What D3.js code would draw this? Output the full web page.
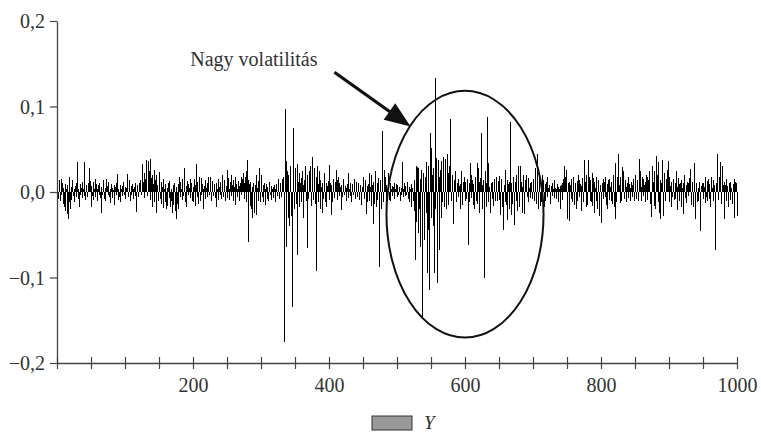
<!DOCTYPE html>
<html lang="hu">
<head>
<meta charset="UTF-8">
<title>Nagy volatilitás</title>
<script src="https://d3js.org/d3.v7.min.js"></script>
<style>
  body { margin: 0; background: #fff; }
  text { font-family: "Liberation Serif", "DejaVu Serif", serif; fill: #333; }
</style>
</head>
<body>
<svg id="chart" width="761" height="434"></svg>
<script>
// returns, in thousandths (0.001), periods 1..1000, 50 per row
const returnsMilli = [
  12,-8,14,6,-10,15,-4,11,-14,5,-18,9,-22,4,-26,8,-32,-12,17,-20,6,-9,14,-5,3,-12,7,-6,10,35,-8,4,-18,9,-3,5,-7,12,3,-5,35,-9,8,4,-6,10,6,28,13,-18,
  7,-5,12,-9,4,15,-6,9,-11,3,8,-4,11,-7,-25,6,-3,10,14,-8,5,-10,15,7,-4,12,-6,3,-13,9,5,-7,2,8,-15,6,-4,10,21,-9,4,-6,8,-12,3,7,-5,12,-3,6,
  -8,5,10,21,-6,14,4,-11,7,-4,9,3,-8,6,11,-5,-23,8,4,-6,10,7,14,-4,18,33,12,-7,22,15,38,26,-5,36,18,24,-9,39,16,-18,20,9,26,-12,14,20,-24,8,-10,12,
  23,-8,12,-14,6,15,-19,4,-12,9,-20,5,-16,11,-7,13,-18,3,-11,-25,8,-15,10,-22,6,-32,-14,9,-20,18,-6,12,4,-9,15,-5,28,10,-12,7,-17,13,-4,9,5,15,-7,11,-10,6,
  -12,15,-16,8,33,-6,12,-14,18,5,-10,16,-4,9,3,-20,7,14,-8,5,11,-6,17,-3,8,18,-11,6,13,-5,4,9,-7,-18,10,3,-9,15,6,-4,12,-8,20,5,-6,11,14,-10,7,26,
  -7,16,4,-9,12,20,-5,8,14,-11,6,18,-15,9,3,-6,13,7,-10,11,18,-4,15,22,-8,10,17,24,-12,37,14,-59,9,-16,12,-20,6,-30,11,-14,-25,8,20,-27,5,-10,13,28,-12,9,
  20,-6,8,-12,11,-15,4,9,-8,6,-11,5,12,-4,7,-9,3,6,-7,8,-12,4,9,-5,6,15,-8,11,4,-6,15,9,18,-22,-175,97,-64,36,25,-30,20,-40,22,30,-28,-134,-78,75,-20,24,
  28,-14,33,-74,12,-18,22,10,-12,16,25,8,-30,14,19,30,-10,-66,20,-8,25,12,30,-16,41,15,-9,28,11,-14,-92,18,30,-12,9,25,-20,14,6,-24,10,-8,22,5,-12,11,-18,7,13,-9,
  32,10,-27,8,-12,5,15,-7,12,4,26,-9,14,18,-5,10,6,-21,8,-6,11,15,-4,7,-10,5,9,22,-7,4,11,-5,-12,6,9,-3,15,4,-8,7,12,-6,5,10,-9,3,8,-15,6,11,
  18,-8,10,14,-26,7,-12,9,22,-10,6,-16,20,8,-37,12,-14,5,25,-18,11,-9,16,-88,9,14,-20,6,71,-12,26,10,18,-14,8,-7,22,5,-9,11,-10,4,7,-5,6,10,-8,4,9,-6,
  8,-4,6,3,-10,5,-3,35,-6,4,10,-5,7,-3,12,5,-8,6,-12,4,-17,9,5,-10,14,-22,-80,30,-35,29,-48,28,-20,-64,15,26,-30,-148,22,-40,-56,18,35,-25,-95,30,-45,-115,69,-30,
  51,20,-40,28,-95,-20,133,40,-25,-106,37,-68,18,26,-30,36,-12,20,41,-18,39,15,-20,45,22,-15,30,85,47,-10,20,12,-37,8,14,24,-8,-12,10,-6,15,7,-20,9,25,-5,-15,12,18,-10,
  12,-8,15,6,-62,10,-12,34,-7,20,14,-15,9,-20,18,5,-10,34,-14,28,12,-25,16,69,8,-20,14,-101,-54,25,-18,10,88,-12,34,6,-15,-24,10,-8,12,-16,15,5,-10,18,7,-10,13,19,
  -9,-27,11,15,-18,-44,-30,8,26,-12,-15,14,-33,9,12,-20,82,10,-27,-14,18,8,-39,12,20,-10,-22,30,15,-18,9,30,12,-25,6,20,-9,-26,14,8,20,-6,-12,16,5,10,-7,12,-8,6,
  15,-10,12,28,-14,45,18,-20,22,15,-16,10,-12,20,6,14,-18,9,-10,12,18,-6,5,8,-4,-14,7,-5,10,4,14,-7,5,-8,3,9,6,-12,4,7,-20,8,10,-9,15,20,30,18,26,-14,
  -32,10,12,-34,8,-8,15,-12,6,18,-15,5,10,-20,13,-10,20,-6,14,9,-22,7,16,-12,37,10,12,-18,20,-15,8,38,18,-10,14,-12,22,-16,16,-25,12,5,18,-10,-20,14,10,-28,8,-36,
  -36,10,15,-8,12,18,-6,-15,9,-20,14,-9,15,6,-10,12,-14,10,20,-18,-31,34,-12,17,22,44,8,-13,18,-10,29,12,24,-6,-8,14,-12,6,10,-7,18,9,-10,5,12,8,-6,15,-11,7,
  20,-8,14,9,-10,39,12,24,6,-11,17,-5,15,8,-12,12,20,18,-9,14,24,10,-14,-29,16,30,12,24,-16,-20,18,42,20,35,-12,-25,14,-31,10,37,22,-28,9,22,-10,15,8,26,36,-12,
  18,7,-17,12,-6,10,15,-9,-8,11,24,-21,6,16,-10,9,10,14,-18,5,-26,11,20,-7,8,-13,12,-5,10,16,27,6,-15,9,12,-18,14,34,-32,10,8,-12,5,-10,12,-22,-46,7,10,-8,
  11,6,-13,18,-6,13,-10,15,9,-8,-17,12,17,5,-10,14,8,-15,-68,10,15,44,-9,18,12,35,-14,20,30,8,-31,12,8,-10,15,7,-6,-17,11,-9,12,5,-14,-12,9,15,-30,12,10,-28
];
const periods = returnsMilli.map((_, i) => i + 1);
const yTicks = [-0.2, -0.1, 0, 0.1, 0.2];
const xMinorTicks = d3.range(0, 1001, 50);
const xLabelTicks = [200, 400, 600, 800, 1000];
const seriesName = "Y";
const annotationText = "Nagy volatilitás";
// annotation in data units: label anchor, arrow start/end, ellipse centre and radii
const labelAt = [196, 0.1474];
const arrowFrom = [408, 0.140];
const arrowTo = [520, 0.0765];
const ellipseCenter = [600, -0.026];
const ellipseRadius = [115.5, 0.1443];

const svg = d3.select("#chart");
const margin = { left: 57, right: 24, top: 21, bottom: 71 };
const width = 761, height = 434;

const x = d3.scaleLinear().domain([0, 1000]).range([margin.left, width - margin.right]);
const y = d3.scaleLinear().domain([-0.2, 0.2]).range([height - margin.bottom, margin.top]);

const huFormat = d3.formatLocale({ decimal: ",", thousands: " ", grouping: [3], currency: ["", ""], minus: "\u2212" }).format(".1f");

// bars (spikes from zero)
svg.append("g")
    .attr("shape-rendering", "crispEdges")
  .selectAll("line")
  .data(returnsMilli)
  .enter().append("line")
    .attr("x1", (d, i) => x(periods[i]))
    .attr("x2", (d, i) => x(periods[i]))
    .attr("y1", y(0))
    .attr("y2", d => y(d / 1000))
    .attr("stroke", "#000")
    .attr("stroke-width", 1);

// x axis
const xAxis = svg.append("g")
    .attr("transform", `translate(0,${y(-0.2)})`)
    .call(d3.axisBottom(x).tickValues(xMinorTicks).tickSize(6).tickSizeOuter(0)
      .tickFormat(d => xLabelTicks.includes(d) ? d : ""));
xAxis.select(".domain").attr("stroke", "#444").attr("stroke-width", 1.3);
xAxis.selectAll(".tick line").attr("y1", -6).attr("stroke", "#444").attr("stroke-width", 1.2);
xAxis.selectAll(".tick text")
    .attr("y", 29).attr("dy", 0)
    .style("font-family", "Liberation Serif").style("font-size", "20px").attr("fill", "#333");

// y axis
const yAxis = svg.append("g")
    .attr("transform", `translate(${x(0)},0)`)
    .call(d3.axisLeft(y).tickValues(yTicks).tickSize(7).tickSizeOuter(0).tickPadding(5).tickFormat(huFormat));
yAxis.select(".domain").attr("stroke", "#444").attr("stroke-width", 1.3);
yAxis.selectAll(".tick line").attr("stroke", "#444").attr("stroke-width", 1.2);
yAxis.selectAll(".tick text")
    .attr("dy", "0.34em")
    .style("font-family", "Liberation Serif").style("font-size", "20px").attr("fill", "#333");

// annotation: ellipse, arrow, label
svg.append("ellipse")
    .attr("cx", x(ellipseCenter[0]))
    .attr("cy", y(ellipseCenter[1]))
    .attr("rx", x(ellipseCenter[0] + ellipseRadius[0]) - x(ellipseCenter[0]))
    .attr("ry", y(ellipseCenter[1] - ellipseRadius[1]) - y(ellipseCenter[1]))
    .attr("fill", "none")
    .attr("stroke", "#111")
    .attr("stroke-width", 2);

const ax1 = x(arrowFrom[0]), ay1 = y(arrowFrom[1]);
const ax2 = x(arrowTo[0]), ay2 = y(arrowTo[1]);
const ang = Math.atan2(ay2 - ay1, ax2 - ax1);
const headLen = 26, headHalf = 10;
const bx = ax2 - headLen * Math.cos(ang), by = ay2 - headLen * Math.sin(ang);
svg.append("line")
    .attr("x1", ax1).attr("y1", ay1)
    .attr("x2", bx + 4 * Math.cos(ang)).attr("y2", by + 4 * Math.sin(ang))
    .attr("stroke", "#111").attr("stroke-width", 3.2);
svg.append("polygon")
    .attr("points", [
      [ax2, ay2],
      [bx + headHalf * Math.sin(ang), by - headHalf * Math.cos(ang)],
      [bx - headHalf * Math.sin(ang), by + headHalf * Math.cos(ang)]
    ].map(p => p.join(",")).join(" "))
    .attr("fill", "#111");

svg.append("text")
    .attr("x", x(labelAt[0]))
    .attr("y", y(labelAt[1]))
    .style("font-size", "20px")
    .text(annotationText);

// legend
const legend = svg.append("g").attr("transform", "translate(372,416)");
legend.append("rect")
    .attr("width", 40).attr("height", 14)
    .attr("fill", "#999").attr("stroke", "#333").attr("stroke-width", 1);
legend.append("text")
    .attr("x", 52).attr("y", 13)
    .style("font-size", "19px").style("font-style", "italic")
    .text(seriesName);
</script>
</body>
</html>
